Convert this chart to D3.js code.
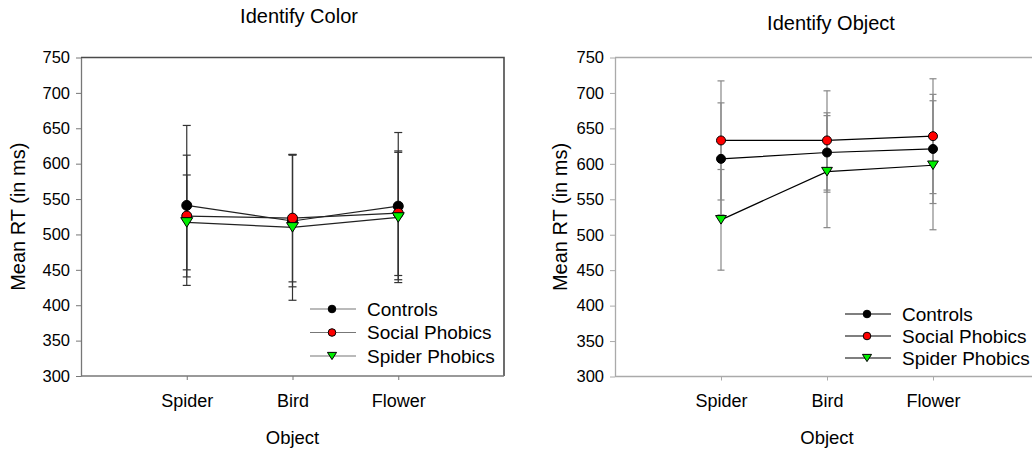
<!DOCTYPE html>
<html>
<head>
<meta charset="utf-8">
<script src="https://cdn.jsdelivr.net/npm/d3@7"></script>
<style>
  body { margin: 0; background: #fff; }
  svg { display: block; }
  text { font-family: "Liberation Sans", Arial, sans-serif; fill: #000; }
</style>
</head>
<body>
<svg id="chart" width="1032" height="452"></svg>
<script>
// Shared labels
const categories = ["Spider", "Bird", "Flower"];
const groups = ["Controls", "Social Phobics", "Spider Phobics"];
const yTicks = [300, 350, 400, 450, 500, 550, 600, 650, 700, 750];

// Identify Color: mean RT and error half-width per object
const colorControls = [541, 519, 540];
const colorControlsErr = [113, 93, 104];
const colorSocial = [526, 523, 530];
const colorSocialErr = [86, 90, 88];
const colorSpider = [517, 510, 524];
const colorSpiderErr = [67, 103, 92];

// Identify Object: mean RT and error half-width per object
const objectControls = [607, 616, 621];
const objectControlsErr = [79, 56, 77];
const objectSocial = [633, 633, 639];
const objectSocialErr = [84, 70, 81];
const objectSpider = [521, 589, 598];
const objectSpiderErr = [71, 79, 91];

const svg = d3.select("#chart");

const markerFill = ["#000000", "#ff0000", "#00ee00"];
const markerShape = ["circle", "circle", "triangle"];

function drawMarker(g, shape, fill, x, y, r) {
  if (shape === "circle") {
    g.append("circle").attr("cx", x).attr("cy", y).attr("r", r)
      .attr("fill", fill).attr("stroke", "#000").attr("stroke-width", 1);
  } else {
    const h = r * 1.9, w = r * 1.2;
    g.append("path")
      .attr("d", `M${x - w},${y - h / 2}L${x + w},${y - h / 2}L${x},${y + h / 2}Z`)
      .attr("fill", fill).attr("stroke", "#000").attr("stroke-width", 1);
  }
}

function drawPanel(cfg) {
  const x = d3.scalePoint().domain(categories).range([cfg.x0, cfg.x1]).padding(1);
  const y = d3.scaleLinear().domain([300, 750]).range([cfg.y1, cfg.y0]);
  const g = svg.append("g");

  // frame (top / right)
  if (cfg.frame) {
    g.append("path")
      .attr("d", `M${cfg.x0},${cfg.y0}H${cfg.x1}V${cfg.y1}`)
      .attr("fill", "none").attr("stroke", cfg.frameColor).attr("stroke-width", 1.6);
  }

  // axes
  const ya = g.append("g").attr("transform", `translate(${cfg.x0},0)`)
    .call(d3.axisLeft(y).tickValues(yTicks).tickSize(5).tickPadding(6).tickSizeOuter(0));
  ya.select(".domain").attr("stroke", cfg.axisColor).attr("stroke-width", 1.3);
  ya.selectAll(".tick line").attr("stroke", cfg.axisColor);
  ya.selectAll("text").style("font-size", "16.5px").attr("fill", "#111");

  const xa = g.append("g").attr("transform", `translate(0,${cfg.y1})`)
    .call(d3.axisBottom(x).tickSize(4).tickPadding(14).tickSizeOuter(0));
  xa.select(".domain").attr("stroke", cfg.axisColor).attr("stroke-width", 1.3)
    .attr("d", `M${cfg.x0},0H${cfg.x1}`);
  xa.selectAll(".tick line").attr("stroke", cfg.axisColor);
  xa.selectAll("text").style("font-size", "18px").attr("fill", "#111");

  // error bars
  cfg.series.forEach(s => {
    s.values.forEach((v, i) => {
      const cx = x(categories[i]);
      const lo = y(v - s.err[i]), hi = y(v + s.err[i]);
      g.append("line").attr("x1", cx).attr("x2", cx).attr("y1", lo).attr("y2", hi)
        .attr("stroke", cfg.errColor).attr("stroke-width", 1.2);
      [lo, hi].forEach(yy => {
        g.append("line").attr("x1", cx - cfg.cap).attr("x2", cx + cfg.cap)
          .attr("y1", yy).attr("y2", yy)
          .attr("stroke", cfg.errColor).attr("stroke-width", 1.2);
      });
    });
  });

  // lines
  const line = d3.line().x((d, i) => x(categories[i])).y(d => y(d));
  cfg.series.forEach(s => {
    g.append("path").datum(s.values).attr("d", line)
      .attr("fill", "none").attr("stroke", cfg.lineColor).attr("stroke-width", 1.2);
  });

  // markers
  cfg.series.forEach((s, k) => {
    s.values.forEach((v, i) => {
      drawMarker(g, markerShape[k], markerFill[k], x(categories[i]), y(v), cfg.r);
    });
  });

  // legend
  groups.forEach((name, k) => {
    const ly = cfg.legY + k * cfg.legStep;
    g.append("line").attr("x1", cfg.legX).attr("x2", cfg.legX + 46)
      .attr("y1", ly).attr("y2", ly).attr("stroke", cfg.legLine).attr("stroke-width", 1.2);
    drawMarker(g, markerShape[k], markerFill[k], cfg.legX + 22, ly, 3.8);
    g.append("text").attr("x", cfg.legX + 57).attr("y", ly).attr("dy", "0.35em")
      .style("font-size", "19px").text(name);
  });

  // titles
  g.append("text").attr("x", cfg.titleX).attr("y", cfg.titleY)
    .attr("text-anchor", "middle").style("font-size", "20px").text(cfg.title);
  g.append("text").attr("x", (cfg.x0 + cfg.x1) / 2).attr("y", 444)
    .attr("text-anchor", "middle").style("font-size", "18.5px").text("Object");
  g.append("text")
    .attr("transform", `translate(${cfg.yLabX},${(cfg.y0 + cfg.y1) / 2}) rotate(-90)`)
    .attr("text-anchor", "middle").attr("dy", "0.35em")
    .style("font-size", "20px").text("Mean RT (in ms)");
}

drawPanel({
  title: "Identify Color", titleX: 299, titleY: 23,
  x0: 81, x1: 504, y0: 57.5, y1: 376, yLabX: 18,
  frame: true, frameColor: "#4a4a4a", axisColor: "#777", errColor: "#333",
  lineColor: "#222", cap: 4, r: 5,
  legX: 310, legY: 309, legStep: 23.5, legLine: "#777",
  series: [
    { values: colorControls, err: colorControlsErr },
    { values: colorSocial, err: colorSocialErr },
    { values: colorSpider, err: colorSpiderErr }
  ]
});

drawPanel({
  title: "Identify Object", titleX: 831, titleY: 30,
  x0: 615, x1: 1039, y0: 57.5, y1: 376.5, yLabX: 560,
  frame: true, frameColor: "#aaa", axisColor: "#aaa", errColor: "#888",
  lineColor: "#000", cap: 3.5, r: 4.5,
  legX: 845, legY: 314, legStep: 22, legLine: "#000",
  series: [
    { values: objectControls, err: objectControlsErr },
    { values: objectSocial, err: objectSocialErr },
    { values: objectSpider, err: objectSpiderErr }
  ]
});
</script>
</body>
</html>
